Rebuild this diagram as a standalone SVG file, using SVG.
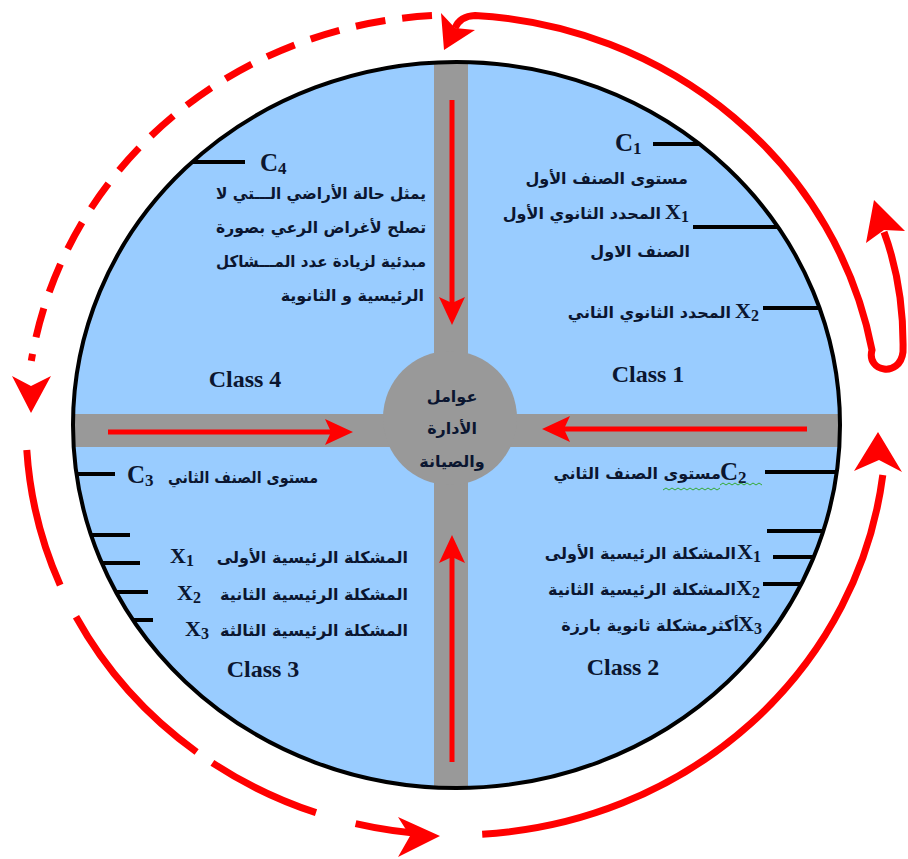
<svg xmlns="http://www.w3.org/2000/svg" width="908" height="859" viewBox="0 0 908 859">
<style>
.lat{font-family:"Liberation Serif","Times New Roman",serif;font-weight:bold;fill:#0b1630}
.cls{font-size:24px;text-anchor:middle}
.cx{font-size:25px}
.xx{font-size:22px}
.ar{font-family:"DejaVu Sans","Noto Sans",sans-serif;font-weight:bold;font-size:16px;fill:#0b1630;text-anchor:end}
.arc{text-anchor:middle}
.tick{stroke:#000;stroke-width:4;fill:none}
.red{stroke:#ff0000;stroke-width:7;fill:none}
.redf{fill:#ff0000}
.inner{stroke:#ff0000;stroke-width:5;fill:none;marker-end:url(#ra)}
.road{fill:#999999}
</style>
<defs>
<clipPath id="disc"><ellipse cx="456.5" cy="425" rx="383.5" ry="363"/></clipPath>
<marker id="ra" markerUnits="userSpaceOnUse" viewBox="0 0 28 26" markerWidth="28" markerHeight="26" refX="6" refY="13" orient="auto">
<path d="M0,0 L28,13 L0,26 L6,13 z" fill="#ff0000"/>
</marker>
</defs>

<g id="disc-base">
<ellipse cx="456.5" cy="425" rx="383.5" ry="363" fill="#99ccff"/>
<g clip-path="url(#disc)">
<rect class="road" x="434" y="50" width="34" height="760"/>
<rect class="road" x="60" y="414" width="800" height="33"/>
</g>
<ellipse cx="456.5" cy="425" rx="383.5" ry="363" fill="none" stroke="#000" stroke-width="4"/>
</g>

<g id="center">
<circle cx="450" cy="418" r="67" fill="#999999"/>
<text class="ar arc" x="452" y="402">عوامل</text>
<text class="ar arc" x="452" y="434">الأدارة</text>
<text class="ar arc" x="452" y="467">والصيانة</text>
</g>

<g id="class1">
<line class="tick" x1="653" y1="144" x2="699" y2="144"/>
<line class="tick" x1="693" y1="227" x2="778" y2="227"/>
<line class="tick" x1="763" y1="308" x2="820" y2="308"/>
<text class="lat cx" x="615" y="151">C<tspan font-size="17" dy="3">1</tspan></text>
<text class="ar" x="688" y="184">مستوى الصنف الأول</text>
<text class="lat xx" x="665" y="219">X<tspan font-size="16" dy="3">1</tspan></text>
<text class="ar" x="661" y="219">المحدد الثانوي الأول</text>
<text class="ar" x="690" y="257">الصنف الاول</text>
<text class="lat xx" x="735" y="318">X<tspan font-size="16" dy="3">2</tspan></text>
<text class="ar" x="731" y="318">المحدد الثانوي الثاني</text>
<text class="lat cls" x="648" y="382">Class 1</text>
</g>

<g id="class2">
<line class="tick" x1="765" y1="472" x2="837" y2="472"/>
<line class="tick" x1="767" y1="531" x2="823" y2="531"/>
<line class="tick" x1="773" y1="557" x2="814" y2="557"/>
<line class="tick" x1="763" y1="584" x2="801" y2="584"/>
<text class="lat cx" x="720" y="480">C<tspan font-size="17" dy="3">2</tspan></text>
<text class="ar" x="721" y="479">مستوى الصنف الثاني</text>
<polyline points="663,490 666,488 669,490 672,488 675,490 678,488 681,490 684,488 687,490 690,488 693,490 696,488 699,490 702,488 705,490 708,488 711,490 714,488 717,490 720,488" fill="none" stroke="#33aa33" stroke-width="1"/>
<polyline points="720,485 723,483 726,485 729,483 732,485 735,483 738,485 741,483 744,485 747,483 750,485 753,483 756,485 759,483 762,485" fill="none" stroke="#33aa33" stroke-width="1"/>
<text class="lat xx" x="737" y="559">X<tspan font-size="16" dy="3">1</tspan></text>
<text class="ar" x="736" y="559">المشكلة الرئيسية الأولى</text>
<text class="lat xx" x="736" y="595">X<tspan font-size="16" dy="3">2</tspan></text>
<text class="ar" x="736" y="595">المشكلة الرئيسية الثانية</text>
<text class="lat xx" x="738" y="631">X<tspan font-size="16" dy="3">3</tspan></text>
<text class="ar" x="739" y="631">أكثرمشكلة ثانوية بارزة</text>
<text class="lat cls" x="623" y="675">Class 2</text>
</g>

<g id="class3">
<line class="tick" x1="77" y1="474" x2="115" y2="474"/>
<line class="tick" x1="91" y1="535" x2="130" y2="535"/>
<line class="tick" x1="102" y1="563" x2="140" y2="563"/>
<line class="tick" x1="116" y1="592" x2="148" y2="592"/>
<line class="tick" x1="133" y1="620" x2="153" y2="620"/>
<text class="lat cx" x="127" y="483">C<tspan font-size="17" dy="3">3</tspan></text>
<text class="ar" x="318" y="483" textLength="150" lengthAdjust="spacingAndGlyphs">مستوى الصنف الثاني</text>
<text class="lat xx" x="170" y="563">X<tspan font-size="16" dy="3">1</tspan></text>
<text class="ar" x="408" y="563">المشكلة الرئيسية الأولى</text>
<text class="lat xx" x="177" y="600">X<tspan font-size="16" dy="3">2</tspan></text>
<text class="ar" x="408" y="600">المشكلة الرئيسية الثانية</text>
<text class="lat xx" x="185" y="636">X<tspan font-size="16" dy="3">3</tspan></text>
<text class="ar" x="408" y="636">المشكلة الرئيسية الثالثة</text>
<text class="lat cls" x="263" y="677">Class 3</text>
</g>

<g id="class4">
<line class="tick" x1="192" y1="162" x2="245" y2="162"/>
<text class="lat cx" x="260" y="171">C<tspan font-size="17" dy="3">4</tspan></text>
<text class="ar" x="426" y="199" textLength="210" lengthAdjust="spacingAndGlyphs">يمثل حالة الأراضي الـــتي لا</text>
<text class="ar" x="426" y="233" textLength="210" lengthAdjust="spacingAndGlyphs">تصلح لأغراض الرعي بصورة</text>
<text class="ar" x="426" y="267" textLength="210" lengthAdjust="spacingAndGlyphs">مبدئية لزيادة عدد المـــشاكل</text>
<text class="ar" x="424" y="301">الرئيسية و الثانوية</text>
<text class="lat cls" x="245" y="387">Class 4</text>
</g>

<g id="connectors">
<line class="inner" x1="452" y1="100" x2="452" y2="303"/>
<line class="inner" x1="452" y1="762" x2="452" y2="557"/>
<line class="inner" x1="108" y1="432" x2="331" y2="432"/>
<line class="inner" x1="807" y1="429" x2="564" y2="429"/>

<path class="red" stroke-dasharray="30 17" d="M432,15.6 A430,410 0 0 0 31.3,360.9"/>
<polygon class="redf" points="12,376 31,413 51,376 31,386"/>

<path class="red" d="M26.8,450 A430,410 0 0 0 60.2,585.2"/>
<path class="red" d="M76,616.8 A430,410 0 0 0 196.6,752"/>
<path class="red" d="M212.4,762.9 A430,410 0 0 0 316,812.7"/>
<path class="red" d="M355.6,823.7 A430,410 0 0 0 426,834"/>
<polygon class="redf" points="440,836 398,817 410,836 398,857"/>

<path class="red" d="M482.2,834.2 A430,410 0 0 0 882.8,475"/>
<polygon class="redf" points="878,432 902,472 879,460 854,471"/>

<path class="red" d="M455,28 Q460,16 475,15.4 A430,410 0 0 1 872,350 C866,372 900,378 903,352 C904,300 895,262 884,232"/>
<polygon class="redf" points="444,50 441,13 455,28 475,30"/>
<polygon class="redf" points="874,200 905,231 884,230 866,243"/>
</g>
</svg>
